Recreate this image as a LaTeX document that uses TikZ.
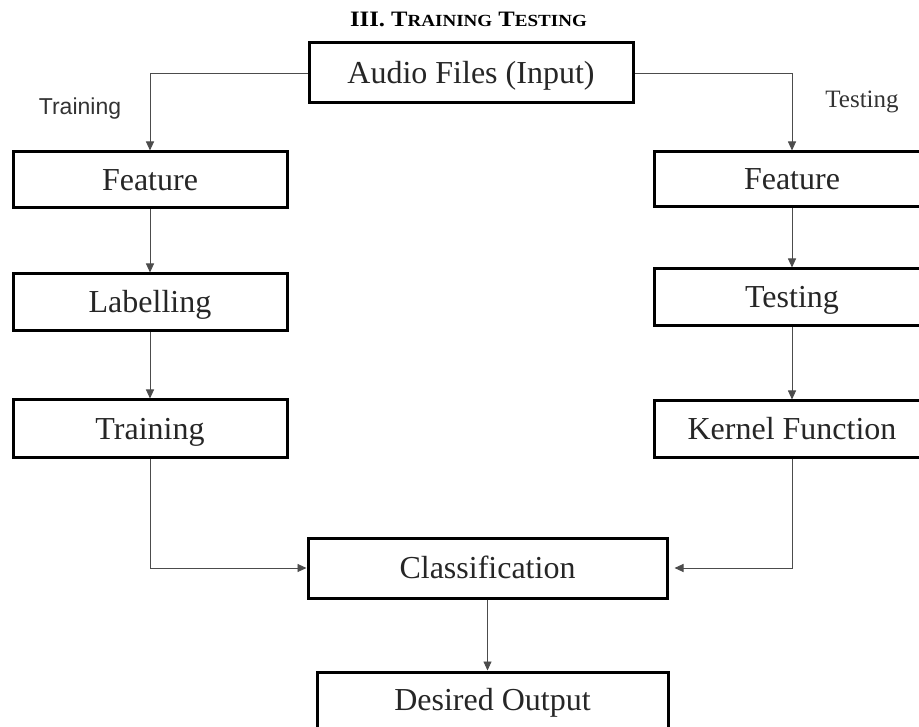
\documentclass[tikz,border=0pt]{standalone}
\usepackage{fontspec}
\setmainfont{Liberation Serif}
\newfontfamily\labelsans{Liberation Sans}
\usetikzlibrary{arrows.meta,positioning}
\newcommand{\fakesc}[1]{{\fontsize{17}{20}\selectfont #1}}

\begin{document}
\begin{tikzpicture}[x = 1pt, y = -1pt,
    blk/.style = {draw, line width = 3pt, minimum width = 274pt, minimum height = 56pt, inner sep = 0pt,
        text = black!85, text height = 21pt, text depth = 0pt, font = \fontsize{32}{36}\selectfont},
    flow/.style = {draw = black!70, line width = 0.9pt, -{Triangle[length = 9pt, width = 8pt]}},
    side/.style = {text = black!80, anchor = base, inner sep = 0pt}]
    \clip (0,0) rectangle (919,727);
    \node[anchor = base, inner sep = 0pt, font = \bfseries\fontsize{22}{26}\selectfont] (TITLE) at (468.5,27)
        {\scalebox{1.12}[1]{III.\ T\fakesc{RAINING} T\fakesc{ESTING}}};
    \node[blk, minimum width = 324pt, minimum height = 60pt] (AUDIO) at (471,73) {Audio Files (Input)};
    % training side
    \node[blk] (FEAT1) at (150,180) {Feature};
    \node[blk, minimum height = 57pt] (LABEL) at (150,302.5) {Labelling};
    \node[blk, minimum height = 57pt] (TRAIN) at (150,428.5) {Training};
    % testing side
    \node[blk, minimum width = 276pt, minimum height = 55pt] (FEAT2) at (792,179.5) {Feature};
    \node[blk, minimum width = 276pt, minimum height = 57pt] (TEST) at (792,297.5) {Testing};
    \node[blk, minimum width = 276pt] (KERN) at (792,429) {Kernel Function};
    % result
    \node[blk, minimum width = 359pt, minimum height = 60pt] (CLASS) at (487.5,568) {Classification};
    \node[blk, minimum width = 351pt] (OUT) at (492.5,700) {Desired Output};
    \node[side, font = \labelsans\fontsize{23}{26}\selectfont] (TRL) at (80,115) {Training};
    \node[side, font = \fontsize{25}{28}\selectfont] (TSL) at (862,108) {Testing};

    \draw[flow] (AUDIO.west) -| (FEAT1.north);
    \draw[flow] (AUDIO.east) -| (FEAT2.north);
    \draw[flow] (FEAT1) -- (LABEL);
    \draw[flow] (LABEL) -- (TRAIN);
    \draw[flow] (FEAT2) -- (TEST);
    \draw[flow] (TEST) -- (KERN);
    \draw[flow] (TRAIN.south) |- (CLASS.west);
    \draw[flow] (KERN.south) |- ([xshift = 6pt]CLASS.east);
    \draw[flow] (CLASS.south) -- (CLASS.south |- OUT.north);
\end{tikzpicture}
\end{document}
